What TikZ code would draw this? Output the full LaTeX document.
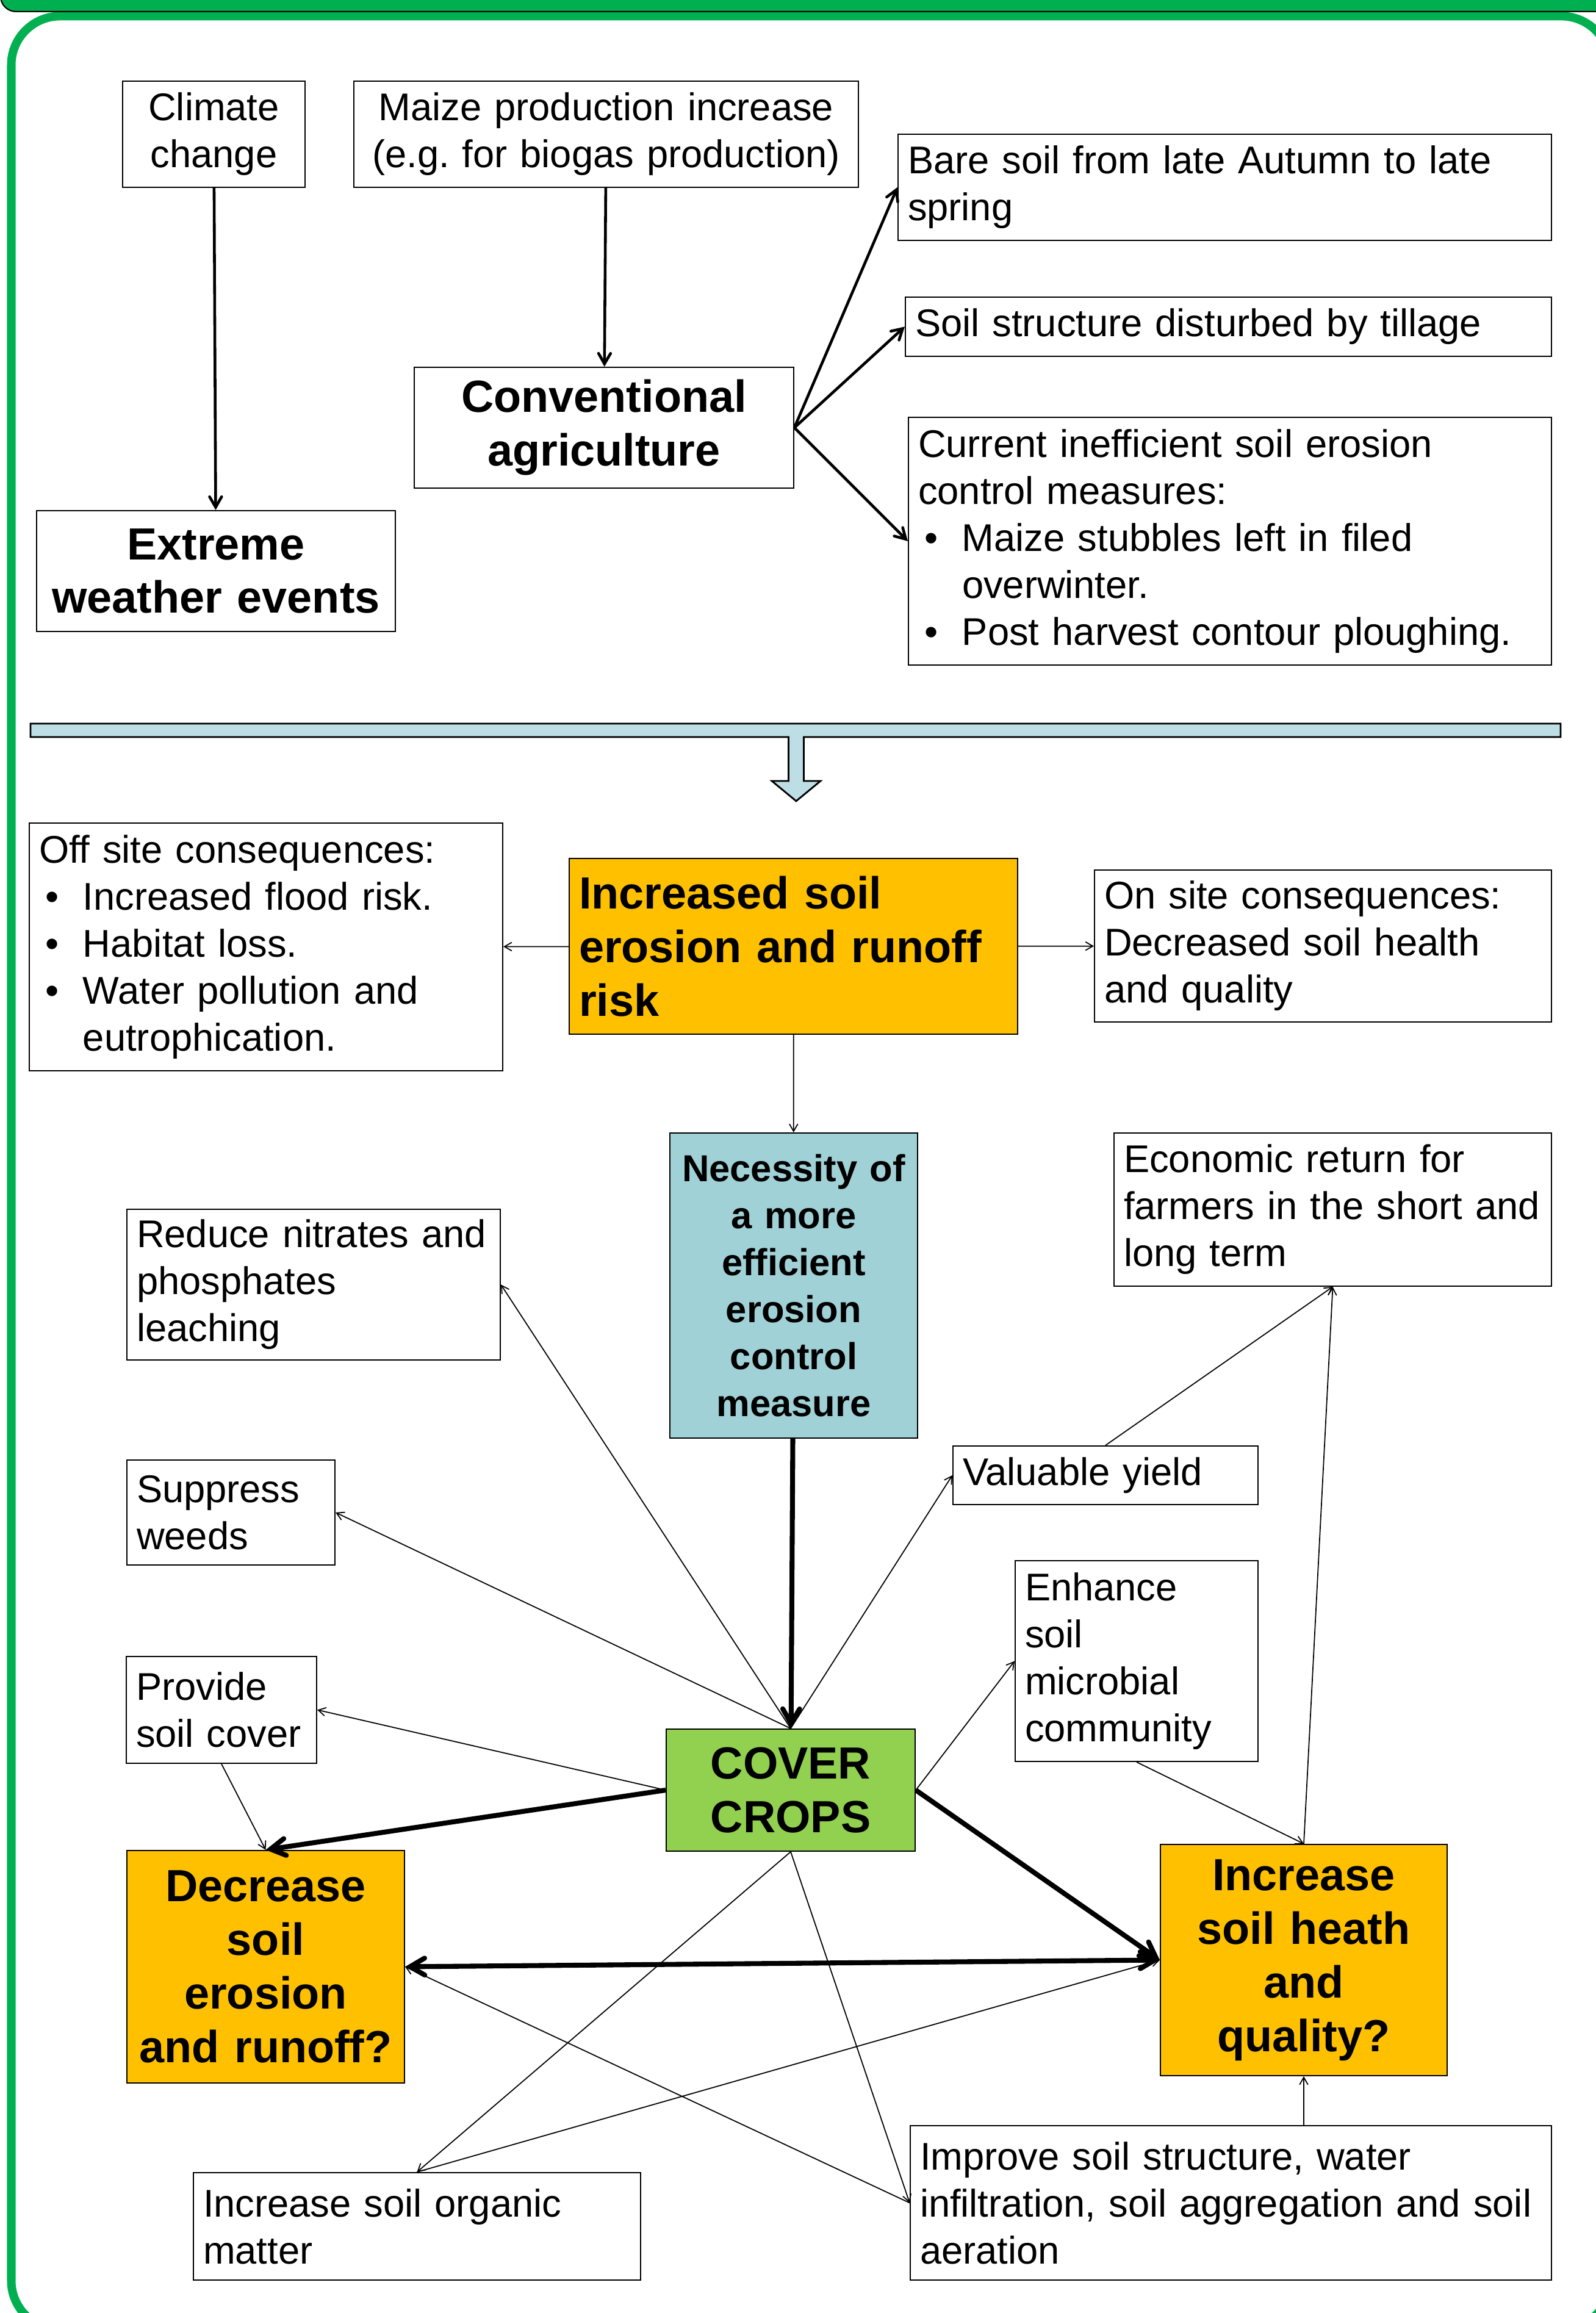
\documentclass[tikz,border=0pt]{standalone}
\usepackage{fontspec}
\setmainfont{Liberation Sans}
\usetikzlibrary{arrows}
\frenchspacing

\definecolor{framegreen}{RGB}{0,176,80}
\definecolor{orangebox}{RGB}{255,192,0}
\definecolor{greenbox}{RGB}{146,208,80}
\definecolor{bluebox}{RGB}{160,209,214}
\definecolor{barblue}{RGB}{189,222,228}

\newcommand{\bul}{\hspace*{0.1cm}\makebox[0.62cm][l]{\textbullet}}
\newcommand{\cont}{\hspace*{0.72cm}}

\begin{document}
\begin{tikzpicture}[->,>=angle 60,semithick]
   \tikzstyle{box}=[draw=black,fill=white,line width=0.6pt,align=left,
                    inner xsep=0.16cm,inner ysep=0.05cm,
                    font=\fontsize{18}{21.9}\selectfont]
   \tikzstyle{cbox}=[box,align=center,inner xsep=0.1cm]
   \tikzstyle{title}=[cbox,font=\fontsize{21}{25}\selectfont\bfseries]
   \tikzstyle{minor}=[line width=0.5pt]
   \tikzstyle{lead}=[line width=1.3pt]
   \tikzstyle{major}=[line width=2.3pt]

   \useasboundingbox (0,0) rectangle (26.16,37.91);
   \clip (0,0) rectangle (26.16,37.91);

   % frame and header band
   \draw[-,framegreen,line width=0.14cm,rounded corners=0.8cm] (0.185,-0.27) rectangle (26.39,37.645);
   \draw[-,fill=framegreen,line width=0.6pt,rounded corners=0.25cm] (0.01,39) rectangle (27,37.72);

   % divider with arrow
   \draw[-,fill=barblue,line width=0.8pt] (0.50,26.05) -- (25.58,26.05) -- (25.58,25.83)
        -- (13.175,25.83) -- (13.175,25.11) -- (13.45,25.11) -- (13.05,24.78)
        -- (12.65,25.11) -- (12.925,25.11) -- (12.925,25.83) -- (0.50,25.83) -- cycle;

   % top part
   \node[cbox,text width=2.79cm,minimum height=1.74cm]  (clim)    at (3.505,35.71)  {Climate\\change};
   \node[cbox,text width=8.07cm,minimum height=1.74cm]  (maize)   at (9.935,35.71)  {Maize production increase\\(e.g. for biogas production)};
   \node[box,text width=10.39cm,minimum height=1.74cm]  (bare)    at (20.075,34.84) {Bare soil from late Autumn to late\\spring};
   \node[box,text width=10.27cm,minimum height=0.97cm]  (tillage) at (20.135,32.555) {Soil structure disturbed by tillage};
   \node[box,text width=10.22cm,minimum height=4.06cm]  (current) at (20.16,29.04)  {Current inefficient soil erosion\\control measures:\\\bul Maize stubbles left in filed\\\cont overwinter.\\\bul Post harvest contour ploughing.};
   \node[title,text width=6.02cm,minimum height=1.98cm] (conv)    at (9.90,30.90)   {Conventional\\agriculture};
   \node[title,text width=5.68cm,minimum height=1.98cm] (extreme) at (3.54,28.55)   {Extreme\\weather events};

   \path (clim)      edge [lead] (extreme)
         (maize)     edge [lead] (conv)
         (conv.east) edge [lead] (bare.west)
                     edge [lead] (tillage.west)
                     edge [lead] (current.west);

   % bottom part
   \node[box,text width=7.44cm,minimum height=4.06cm]   (offsite) at (4.36,22.39)   {Off site consequences:\\\bul Increased flood risk.\\\bul Habitat loss.\\\bul Water pollution and\\\cont eutrophication.};
   \node[title,fill=orangebox,align=left,inner xsep=0.16cm,text width=7.03cm,minimum height=2.88cm]
                                                        (incr)    at (13.005,22.40) {Increased soil\\erosion and runoff\\risk};
   \node[box,text width=7.17cm,minimum height=2.49cm]   (onsite)  at (21.685,22.405) {On site consequences:\\Decreased soil health\\and quality};
   \node[cbox,fill=bluebox,font=\fontsize{17.5}{21.9}\selectfont\bfseries,text width=3.86cm,minimum height=5.00cm]
                                                        (need)    at (13.01,16.84)  {Necessity of\\a more\\efficient\\erosion\\control\\measure};
   \node[box,text width=5.80cm,minimum height=2.47cm]   (reduce)  at (5.14,16.855)  {Reduce nitrates and\\phosphates\\leaching};
   \node[box,text width=6.85cm,minimum height=2.51cm]   (econ)    at (21.845,18.085) {Economic return for\\farmers in the short and\\long term};
   \node[box,text width=3.09cm,minimum height=1.72cm]   (weeds)   at (3.785,13.12)  {Suppress\\weeds};
   \node[box,text width=4.68cm,minimum height=0.96cm]   (yield)   at (18.12,13.73)  {Valuable yield};
   \node[box,text width=3.66cm,minimum height=3.29cm]   (microb)  at (18.63,10.685) {Enhance\\soil\\microbial\\community};
   \node[box,text width=2.80cm,minimum height=1.75cm]   (provide) at (3.63,9.885)   {Provide\\soil cover};
   \node[title,fill=greenbox,text width=3.88cm,minimum height=2.00cm]
                                                        (cover)   at (12.96,8.57)   {COVER\\CROPS};
   \node[title,fill=orangebox,text width=4.35cm,minimum height=3.81cm]
                                                        (decr)    at (4.355,5.675)  {Decrease\\soil\\erosion\\and runoff?};
   \node[title,fill=orangebox,text width=4.50cm,minimum height=3.79cm]
                                                        (heath)   at (21.37,5.785)  {Increase\\soil heath\\and\\quality?};
   \node[box,text width=7.01cm,minimum height=1.76cm]   (som)     at (6.835,1.42)   {Increase soil organic\\matter};
   \node[box,text width=10.19cm,minimum height=2.53cm]  (improve) at (20.175,1.805) {Improve soil structure, water\\infiltration, soil aggregation and soil\\aeration};

   \path (incr)  edge [minor] (offsite)
                 edge [minor] (onsite)
                 edge [minor] (need)
         (need)  edge [major] (cover)
         (cover.north) edge [minor] (reduce.east)
                       edge [minor] (weeds.east)
                       edge [minor] (yield.west)
         (cover.east)  edge [minor] (microb.west)
                       edge [major] (heath.west)
         (cover.west)  edge [minor] (provide.east)
                       edge [major] (decr.north)
         (cover.south) edge [minor] (som.north)
                       edge [minor] (improve.west)
         (provide.south) edge [minor] (decr.north)
         (decr.east)   edge [major,<->] (heath.west)
         (som.north)   edge [minor] (heath.west)
         (improve.west) edge [minor] (decr.east)
         (heath.south |- improve.north) edge [minor] (heath.south)
         (microb.south) edge [minor] (heath.north)
         (yield.north) edge [minor] (econ.south)
         (heath.north) edge [minor] (econ.south);
\end{tikzpicture}
\end{document}
